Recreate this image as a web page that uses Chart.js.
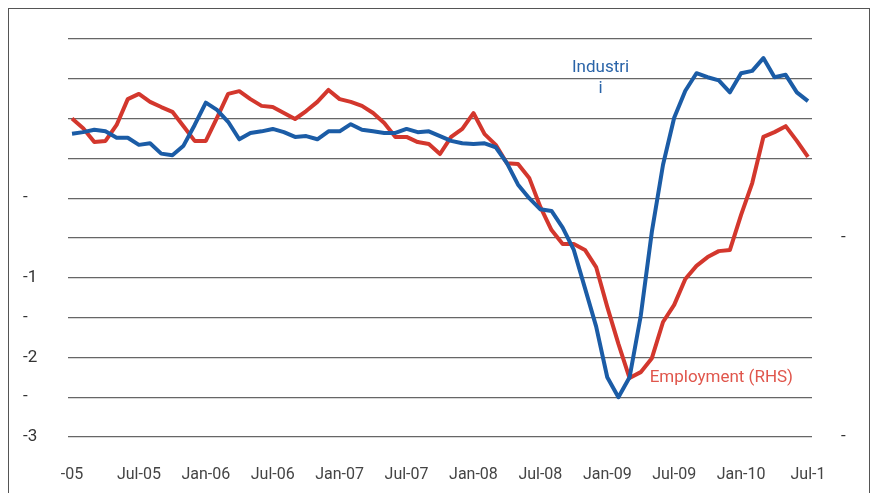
<!DOCTYPE html>
<html>
<head>
<meta charset="utf-8">
<script src="https://cdn.jsdelivr.net/npm/chart.js@4.4.1/dist/chart.umd.min.js"></script>
<style>
    html, body { margin: 0; padding: 0; background: #fff; overflow: hidden; }
    #wrap { position: relative; width: 874px; height: 493px; }
    #frame { position: absolute; left: 8px; top: 8px; width: 860px; height: 520px; border: 1px solid #555; }
    canvas { position: absolute; left: 0; top: 0; }
</style>
</head>
<body>
<div id="wrap">
    <div id="frame"></div>
    <canvas id="chart" width="874" height="493"></canvas>
</div>
<script>
// x tick labels, one every 6 months (as they appear, truncated at the edges)
const tickLabels = ['-05', 'Jul-05', 'Jan-06', 'Jul-06', 'Jan-07', 'Jul-07', 'Jan-08', 'Jul-08', 'Jan-09', 'Jul-09', 'Jan-10', 'Jul-1'];

// monthly values Jan-05 .. Jul-10
const industrial = [
    0.81, 0.83, 0.86, 0.84, 0.76, 0.76, 0.67, 0.69, 0.56, 0.54, 0.66, 0.92,
    1.20, 1.11, 0.96, 0.74, 0.82, 0.84, 0.87, 0.83, 0.77, 0.78, 0.74, 0.84,
    0.84, 0.93, 0.86, 0.84, 0.82, 0.82, 0.87, 0.83, 0.84, 0.78, 0.72, 0.69,
    0.68, 0.69, 0.64, 0.44, 0.17, 0.00, -0.14, -0.16, -0.37, -0.65, -1.13, -1.61,
    -2.25, -2.50, -2.25, -1.48, -0.42, 0.42, 1.01, 1.35, 1.57, 1.52, 1.48, 1.33,
    1.57, 1.60, 1.76, 1.52, 1.55, 1.33, 1.22
];
const employment = [
    0.00, -0.24, -0.59, -0.56, -0.16, 0.49, 0.62, 0.42, 0.29, 0.17, -0.19, -0.56,
    -0.56, 0.02, 0.62, 0.69, 0.49, 0.32, 0.29, 0.14, -0.01, 0.19, 0.42, 0.72,
    0.49, 0.42, 0.32, 0.14, -0.11, -0.46, -0.46, -0.59, -0.64, -0.89, -0.46, -0.26,
    0.14, -0.39, -0.66, -1.12, -1.14, -1.49, -2.22, -2.80, -3.15, -3.15, -3.30, -3.73,
    -4.73, -5.66, -6.52, -6.37, -6.02, -5.11, -4.68, -4.03, -3.70, -3.48, -3.33, -3.30,
    -2.42, -1.62, -0.46, -0.34, -0.19, -0.56, -0.96
];

// left and right tick labels as shown
const leftTickText = { '0': '-', '-1': '-1', '-1.5': '-', '-2': '-2', '-2.5': '-', '-3': '-3' };
const rightTickText = { '-3': '-', '-8': '-' };

const FONT = 'Roboto';
const BLUE = '#1b5ca6';
const RED = '#d3372d';

const annotations = {
    id: 'annotations',
    afterDatasetsDraw(chart) {
        const { ctx, scales } = chart;
        ctx.save();
        ctx.font = `17px ${FONT}`;
        ctx.textBaseline = 'middle';
        ctx.textAlign = 'center';
        ctx.fillStyle = '#2a64a8';
        const ix = scales.x.getPixelForValue(47.4);
        ctx.fillText('Industri', ix, scales.y.getPixelForValue(1.64));
        ctx.fillText('i', ix, scales.y.getPixelForValue(1.38));
        ctx.textAlign = 'left';
        ctx.fillStyle = '#e0564c';
        ctx.fillText('Employment (RHS)', scales.x.getPixelForValue(51.8), scales.y1.getPixelForValue(-6.5));
        ctx.restore();
    }
};

const ctx = document.getElementById('chart').getContext('2d');
new Chart(ctx, {
    type: 'line',
    data: {
        datasets: [{
            label: 'Industrial production',
            data: industrial.map((v, i) => ({ x: i, y: v })),
            borderColor: BLUE,
            borderWidth: 4,
            yAxisID: 'y'
        }, {
            label: 'Employment (RHS)',
            data: employment.map((v, i) => ({ x: i, y: v })),
            borderColor: RED,
            borderWidth: 4,
            yAxisID: 'y1'
        }]
    },
    options: {
        responsive: false,
        animation: false,
        layout: { padding: { left: 23, top: 39, right: 0, bottom: 0 } },
        elements: { point: { radius: 0 }, line: { tension: 0, borderJoinStyle: 'round' } },
        plugins: { legend: { display: false }, tooltip: { enabled: false } },
        scales: {
            x: {
                type: 'linear',
                min: -0.36,
                max: 66.36,
                grid: { display: false },
                border: { display: false },
                afterBuildTicks: (scale) => {
                    scale.ticks = tickLabels.map((_, i) => ({ value: i * 6 }));
                },
                afterFit: (scale) => { scale.height = 56; },
                ticks: {
                    autoSkip: false,
                    maxRotation: 0,
                    padding: 20,
                    color: '#444',
                    font: { family: FONT, size: 16 },
                    callback: (value) => tickLabels[Math.round(value / 6)]
                }
            },
            y: {
                position: 'left',
                min: -3,
                max: 2,
                grid: { color: '#666', lineWidth: 1.3, drawTicks: false },
                border: { display: false },
                afterFit: (scale) => { scale.width = 45; },
                ticks: {
                    stepSize: 0.5,
                    crossAlign: 'far',
                    color: '#333',
                    font: { family: FONT, size: 17 },
                    callback: (value) => leftTickText[String(value)] || ''
                }
            },
            y1: {
                position: 'right',
                min: -8,
                max: 2,
                grid: { display: false },
                border: { display: false },
                afterFit: (scale) => { scale.width = 62; },
                ticks: {
                    stepSize: 1,
                    padding: 21,
                    color: '#333',
                    font: { family: FONT, size: 17 },
                    callback: (value) => rightTickText[String(value)] || ''
                }
            }
        }
    },
    plugins: [annotations]
});
</script>
</body>
</html>
